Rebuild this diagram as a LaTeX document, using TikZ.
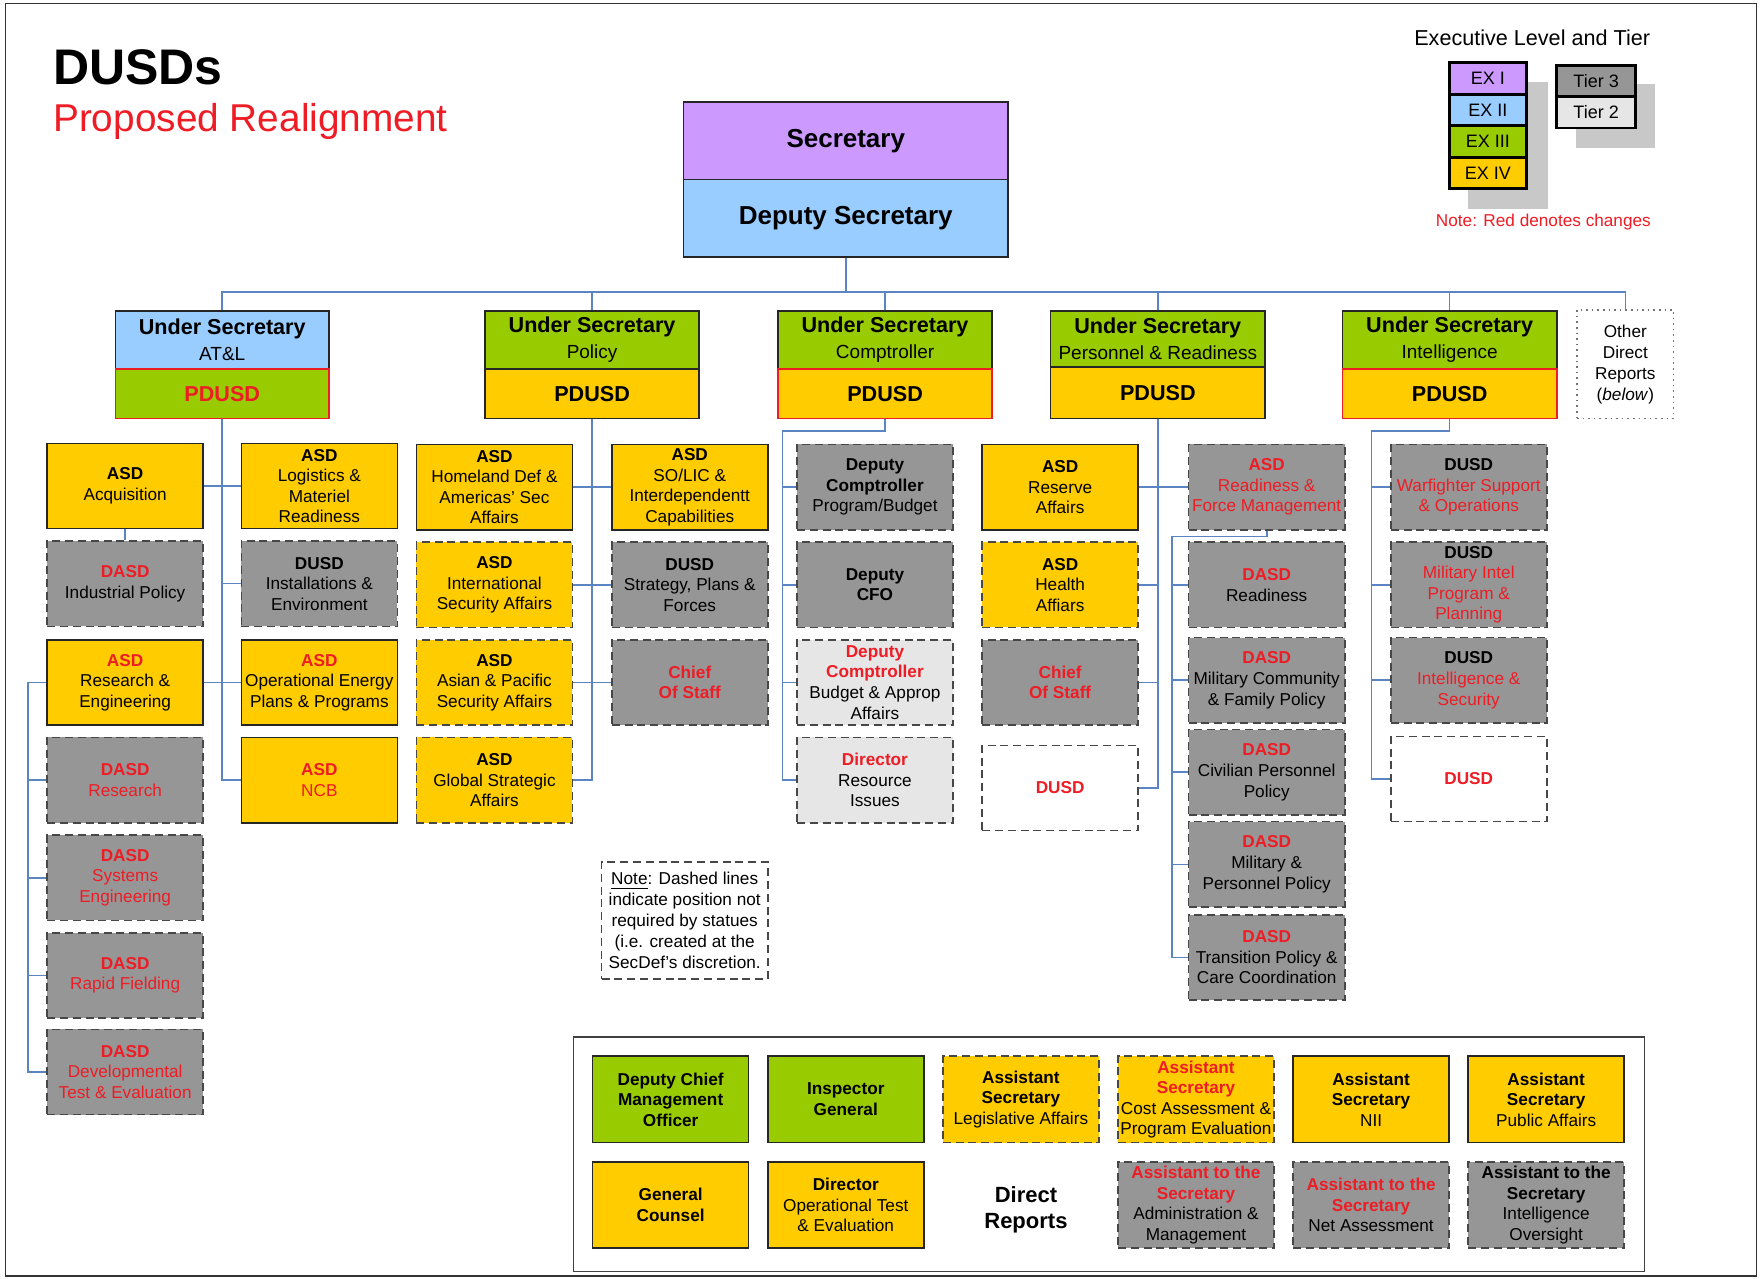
\documentclass[tikz,border=0pt]{standalone}
\usepackage{fontspec}
\setmainfont{Liberation Sans}
\definecolor{exone}{HTML}{CC99FF}
\definecolor{extwo}{HTML}{99CCFF}
\definecolor{exthree}{HTML}{99CC00}
\definecolor{exfour}{HTML}{FFCC00}
\definecolor{tierthree}{HTML}{969696}
\definecolor{tiertwo}{HTML}{E6E6E6}
\definecolor{chg}{HTML}{EE1C25}
\definecolor{wire}{HTML}{5A85C2}
\definecolor{dropgrey}{HTML}{C8C8C8}
\newcommand\redtxt[1]{\textcolor{chg}{#1}}
\newcommand\boxfont{\fontsize{8.6}{10.3}\selectfont}
\newcommand\sub[1]{{\fontsize{9.5}{13}\selectfont #1}}
\tikzset{
  % a node spanning the rectangle (x1,y1)-(x2,y2), text centred
  span/.style n args={4}{at={({(#1+#3)/2},{(#2+#4)/2})},
      minimum width={(#3-#1)*0.56122pt}, minimum height={(#4-#2)*0.56122pt}},
  bx/.style={draw=black!85, line width=0.8pt, inner sep=0pt, align=center, font=\boxfont, text=black},
  dsh/.style={dash pattern=on 4pt off 2.4pt, draw=black!72},
  gold/.style={bx, fill=exfour},
  goldd/.style={gold, dsh},
  grey/.style={bx, fill=tierthree, dsh},
  pale/.style={bx, fill=tiertwo, dsh},
  blank/.style={bx, fill=white, dsh},
  boldred/.style={text=chg, font=\boxfont\bfseries},
  ushead/.style={bx, font=\fontsize{10.8}{13}\selectfont},
  uslow/.style={bx, font=\fontsize{10.8}{13}\selectfont\bfseries},
  lg/.style={draw=black, line width=1.4pt, inner sep=0pt, font=\fontsize{9}{10}\selectfont},
  conn/.style={draw=wire, line width=0.8pt},
}
\begin{document}
\begin{tikzpicture}[x=0.56122pt, y=-0.56122pt]
\useasboundingbox (0,0) rectangle (1568,1139);
\fill[white] (0,0) rectangle (1568,1139);
\draw[black!80, line width=0.8pt] (5,3) rectangle (1565,1137);

% title
\node[anchor=west, inner sep=0pt, font=\fontsize{25}{28}\selectfont\bfseries] (title) at (47,60) {DUSDs};
\node[anchor=west, inner sep=0pt, text=chg, font=\fontsize{19.4}{22}\selectfont] (subtitle) at (47,108) {Proposed Realignment};

% legend
\node[inner sep=0pt, font=\fontsize{10.8}{12}\selectfont] (lgtitle) at (1365,34) {Executive Level and Tier};
\fill[dropgrey] (1308,73) rectangle (1379,186);
\fill[dropgrey] (1404,75) rectangle (1474,132);
\node[lg, fill=exone, span={1291}{56}{1360}{84}] (exi) {EX I};
\node[lg, fill=extwo, span={1291}{84}{1360}{112}] (exii) {EX II};
\node[lg, fill=exthree, span={1291}{112}{1360}{140}] (exiii) {EX III};
\node[lg, fill=exfour, span={1291}{140}{1360}{168}] (exiv) {EX IV};
\node[lg, fill=tierthree, span={1387}{58}{1457}{86}] (tiii) {Tier 3};
\node[lg, fill=tiertwo, span={1387}{86}{1457}{114}] (tii) {Tier 2};
\node[inner sep=0pt, text=chg, font=\boxfont] (lgnote) at (1375,198) {Note: Red denotes changes};

% secretary
\node[bx, fill=exone, span={609}{91}{898}{160}, font=\fontsize{13}{15}\selectfont\bfseries] (sec) {Secretary};
\node[bx, fill=extwo, span={609}{160}{898}{229}, font=\fontsize{13}{15}\selectfont\bfseries] (dep) {Deputy Secretary};

% under secretaries
\node[ushead, fill=extwo, span={103}{277}{293}{329}] (atl) {\textbf{Under Secretary}\\\sub{AT\&L}};
\node[uslow, fill=exthree, draw=chg, text=chg, span={103}{329}{293}{373}] (atlp) {PDUSD};
\node[ushead, fill=exthree, span={432}{277}{623}{329}] (pol) {\textbf{Under Secretary}\\\sub{Policy}};
\node[uslow, fill=exfour, span={432}{329}{623}{373}] (polp) {PDUSD};
\node[ushead, fill=exthree, span={693}{277}{884}{329}] (comp) {\textbf{Under Secretary}\\\sub{Comptroller}};
\node[uslow, fill=exfour, draw=chg, span={693}{329}{884}{373}] (compp) {PDUSD};
\node[ushead, fill=exthree, span={936}{277}{1127}{327}] (pr) {\textbf{Under Secretary}\\\sub{Personnel \& Readiness}};
\node[uslow, fill=exfour, span={936}{327}{1127}{373}] (prp) {PDUSD};
\node[ushead, fill=exthree, span={1196}{277}{1387}{329}] (int) {\textbf{Under Secretary}\\\sub{Intelligence}};
\node[uslow, fill=exfour, draw=chg, span={1196}{329}{1387}{373}] (intp) {PDUSD};
\node[bx, draw=black!55, dotted, line width=0.8pt, span={1405}{276}{1491}{373}, font=\fontsize{8.6}{10.5}\selectfont] (other) {Other\\Direct\\Reports\\(\textit{below})};

% AT&L offices
\node[gold, span={42}{395}{181}{471}] (acq) {\textbf{ASD}\\Acquisition};
\node[grey, span={42}{482}{181}{558}] (indp) {\redtxt{\textbf{DASD}}\\Industrial Policy};
\node[gold, span={42}{570}{181}{646}] (rne) {\redtxt{\textbf{ASD}}\\Research \&\\Engineering};
\node[grey, text=chg, span={42}{657}{181}{733}] (dres) {\textbf{DASD}\\Research};
\node[grey, text=chg, span={42}{744}{181}{820}] (syse) {\textbf{DASD}\\Systems\\Engineering};
\node[grey, text=chg, span={42}{831}{181}{907}] (rapf) {\textbf{DASD}\\Rapid Fielding};
\node[grey, text=chg, span={42}{917}{181}{993}] (dte) {\textbf{DASD}\\Developmental\\Test \& Evaluation};
\node[gold, span={215}{395}{354}{471}] (logi) {\textbf{ASD}\\Logistics \&\\Materiel\\Readiness};
\node[grey, span={215}{482}{354}{558}] (inst) {\textbf{DUSD}\\Installations \&\\Environment};
\node[gold, span={215}{570}{354}{646}] (opE) {\redtxt{\textbf{ASD}}\\Operational Energy\\Plans \& Programs};
\node[gold, text=chg, span={215}{657}{354}{733}] (ncb) {\textbf{ASD}\\NCB};

% Policy offices
\node[gold, span={371}{396}{510}{472}] (hd) {\textbf{ASD}\\Homeland Def \&\\Americas' Sec\\Affairs};
\node[goldd, span={371}{483}{510}{559}] (isa) {\textbf{ASD}\\International\\Security Affairs};
\node[goldd, span={371}{570}{510}{646}] (apsa) {\textbf{ASD}\\Asian \& Pacific\\Security Affairs};
\node[goldd, span={371}{657}{510}{733}] (gsa) {\textbf{ASD}\\Global Strategic\\Affairs};
\node[gold, span={545}{396}{684}{472}] (solic) {\textbf{ASD}\\SO/LIC \&\\Interdependentt\\Capabilities};
\node[grey, span={545}{483}{684}{559}] (spf) {\textbf{DUSD}\\Strategy, Plans \&\\Forces};
\node[grey, boldred, span={545}{570}{684}{646}] (pcos) {Chief\\Of Staff};

% Comptroller offices
\node[grey, span={710}{396}{849}{472}] (dcpb) {\textbf{Deputy}\\\textbf{Comptroller}\\Program/Budget};
\node[grey, font=\boxfont\bfseries, span={710}{483}{849}{559}] (dcfo) {Deputy\\CFO};
\node[pale, span={710}{570}{849}{646}] (dcba) {\redtxt{\textbf{Deputy}}\\\redtxt{\textbf{Comptroller}}\\Budget \& Approp\\Affairs};
\node[pale, span={710}{657}{849}{733}] (dri) {\redtxt{\textbf{Director}}\\Resource\\Issues};

% Personnel & Readiness offices
\node[gold, span={875}{396}{1014}{472}] (ra) {\textbf{ASD}\\Reserve\\Affairs};
\node[goldd, span={875}{483}{1014}{559}] (ha) {\textbf{ASD}\\Health\\Affiars};
\node[grey, boldred, span={875}{570}{1014}{646}] (prcos) {Chief\\Of Staff};
\node[blank, boldred, span={875}{664}{1014}{740}] (prdusd) {DUSD};
\node[grey, text=chg, span={1059}{396}{1198}{472}] (rfm) {\textbf{ASD}\\Readiness \&\\Force Management};
\node[grey, span={1059}{483}{1198}{559}] (drd) {\redtxt{\textbf{DASD}}\\Readiness};
\node[grey, span={1059}{568}{1198}{644}] (mcfp) {\redtxt{\textbf{DASD}}\\Military Community\\\& Family Policy};
\node[grey, span={1059}{650}{1198}{726}] (cpp) {\redtxt{\textbf{DASD}}\\Civilian Personnel\\Policy};
\node[grey, span={1059}{732}{1198}{808}] (mpp) {\redtxt{\textbf{DASD}}\\Military \&\\Personnel Policy};
\node[grey, span={1059}{815}{1198}{891}] (tpcc) {\redtxt{\textbf{DASD}}\\Transition Policy \&\\Care Coordination};

% Intelligence offices
\node[grey, span={1239}{396}{1378}{472}] (wso) {\textbf{DUSD}\\\redtxt{Warfighter Support}\\\redtxt{\& Operations}};
\node[grey, span={1239}{483}{1378}{559}] (mipp) {\textbf{DUSD}\\\redtxt{Military Intel}\\\redtxt{Program \&}\\\redtxt{Planning}};
\node[grey, span={1239}{568}{1378}{644}] (ins) {\textbf{DUSD}\\\redtxt{Intelligence \&}\\\redtxt{Security}};
\node[blank, boldred, span={1239}{656}{1378}{732}] (indusd) {DUSD};

% note on dashed outlines
\node[bx, dsh, span={536}{768}{684}{872}, font=\fontsize{8.6}{10.4}\selectfont] (note) {\underline{Note}: Dashed lines\\indicate position not\\required by statues\\(i.e. created at the\\SecDef's discretion.};

% direct reports panel
\node[bx, draw=black!75, line width=0.7pt, span={511}{924}{1465}{1133}] (drframe) {};
\node[bx, fill=exthree, font=\boxfont\bfseries, span={528}{941}{667}{1018}] (dcmo) {Deputy Chief\\Management\\Officer};
\node[bx, fill=exthree, font=\boxfont\bfseries, span={684}{941}{823}{1018}] (ig) {Inspector\\General};
\node[goldd, span={840}{941}{979}{1018}] (asla) {\textbf{Assistant}\\\textbf{Secretary}\\Legislative Affairs};
\node[goldd, span={996}{941}{1135}{1018}] (ascape) {\redtxt{\textbf{Assistant}}\\\redtxt{\textbf{Secretary}}\\Cost Assessment \&\\Program Evaluation};
\node[gold, span={1152}{941}{1291}{1018}] (asnii) {\textbf{Assistant}\\\textbf{Secretary}\\NII};
\node[gold, span={1308}{941}{1447}{1018}] (aspa) {\textbf{Assistant}\\\textbf{Secretary}\\Public Affairs};
\node[gold, font=\boxfont\bfseries, span={528}{1035}{667}{1112}] (gc) {General\\Counsel};
\node[gold, span={684}{1035}{823}{1112}] (dote) {\textbf{Director}\\Operational Test\\\& Evaluation};
\node[align=center, inner sep=0pt, font=\fontsize{11}{13}\selectfont\bfseries] (drlabel) at (914,1078) {Direct\\Reports};
\node[grey, span={996}{1035}{1135}{1112}] (atsam) {\redtxt{\textbf{Assistant to the}}\\\redtxt{\textbf{Secretary}}\\Administration \&\\Management};
\node[grey, span={1152}{1035}{1291}{1112}] (atsna) {\redtxt{\textbf{Assistant to the}}\\\redtxt{\textbf{Secretary}}\\Net Assessment};
\node[grey, span={1308}{1035}{1447}{1112}] (atsio) {\textbf{Assistant to the}\\\textbf{Secretary}\\Intelligence\\Oversight};

% ---- connectors ----
\coordinate (bus) at (753,260);
\draw[conn] (dep.south) -- (dep.south |- bus);
\draw[conn] (atl.north) -- (atl.north |- bus) -- (other.north |- bus) -- (other.north);
\foreach \n in {pol,comp,pr,int} \draw[conn] (\n.north) -- (\n.north |- bus);

% AT&L
\draw[conn] (atlp.south) -- (atlp.south |- ncb.west) -- (ncb.west);
\draw[conn] (acq.east) -- (logi.west);
\draw[conn] (atlp.south |- inst.west) -- (inst.west);
\draw[conn] (rne.east) -- (opE.west);
\draw[conn] (acq.south) -- (indp.north);
\coordinate (atlbus) at (25,608);
\draw[conn] (rne.west) -- (atlbus) -- (atlbus |- dte.west) -- (dte.west);
\foreach \n in {dres,syse,rapf} \draw[conn] (atlbus |- \n.west) -- (\n.west);

% Policy
\draw[conn] (polp.south) -- (polp.south |- gsa.east) -- (gsa.east);
\draw[conn] (hd.east) -- (solic.west);
\draw[conn] (isa.east) -- (spf.west);
\draw[conn] (apsa.east) -- (pcos.west);

% Comptroller
\coordinate (cbus) at (697,384);
\draw[conn] (compp.south) -- (compp.south |- cbus) -- (cbus) -- (cbus |- dri.west) -- (dri.west);
\foreach \n in {dcpb,dcfo,dcba} \draw[conn] (cbus |- \n.west) -- (\n.west);

% Personnel & Readiness
\draw[conn] (prp.south) -- (prp.south |- prdusd.east) -- (prdusd.east);
\draw[conn] (ra.east) -- (rfm.west);
\foreach \n in {ha,prcos} \draw[conn] (prp.south |- \n.east) -- (\n.east);
\coordinate (prbus) at (1044,478);
\draw[conn] (rfm.south) -- (rfm.south |- prbus) -- (prbus) -- (prbus |- tpcc.west) -- (tpcc.west);
\foreach \n in {drd,mcfp,cpp,mpp} \draw[conn] (prbus |- \n.west) -- (\n.west);

% Intelligence
\coordinate (ibus) at (1222,384);
\draw[conn] (intp.south) -- (intp.south |- ibus) -- (ibus) -- (ibus |- indusd.west) -- (indusd.west);
\foreach \n in {wso,mipp,ins} \draw[conn] (ibus |- \n.west) -- (\n.west);
\end{tikzpicture}
\end{document}
